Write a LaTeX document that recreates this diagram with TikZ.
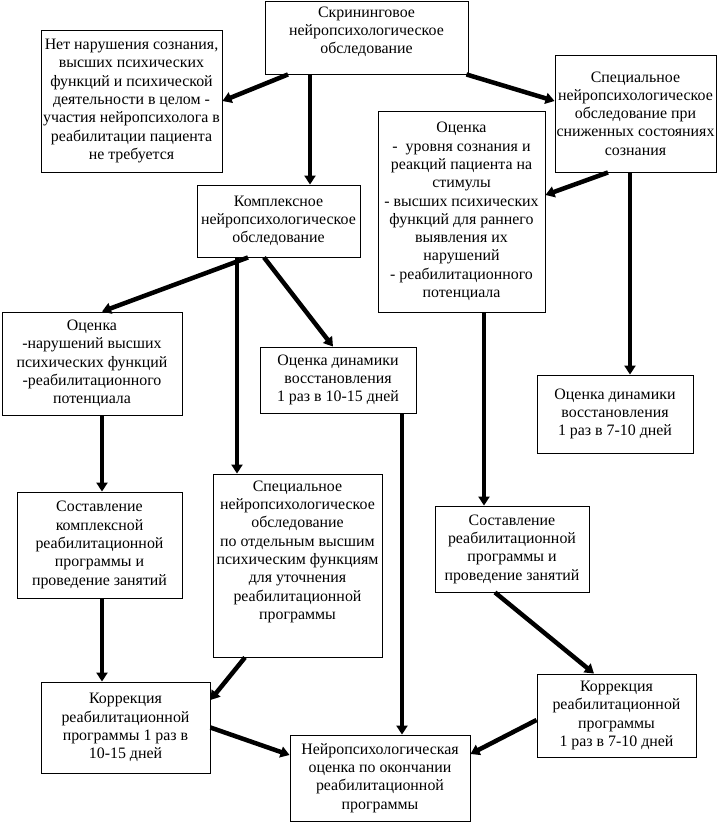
\documentclass[tikz,border=0pt]{standalone}
\usepackage{fontspec}
\setmainfont{Liberation Serif}
\usetikzlibrary{arrows.meta}
\newcommand\fsz{\fontsize{15.9}{18.3}\selectfont}
\tikzset{
  box/.style={draw, line width=0.9pt, inner sep=0pt, align=center, font=\fsz},
  lbl/.style={align=center, font=\fsz, inner sep=0pt},
  arr/.style={line width=4.5pt, -{Triangle[length=9pt,width=11pt]}},
}
\begin{document}
\begin{tikzpicture}[x=1pt,y=-1pt]
\useasboundingbox[fill=white] (0,0) rectangle (719,823);
% boxes
\node[box, minimum width=203, minimum height=73] (scr) at (366.5,37.5) {};
\node[lbl, anchor=north] (scrt) at ([yshift=-6pt]scr.north) {Скрининговое\\нейропсихологическое\\обследование};
\node[box, minimum width=181, minimum height=142] (nov) at (131.5,101) {Нет нарушения сознания,\\высших психических\\функций и психической\\деятельности в целом -\\участия нейропсихолога в\\реабилитации пациента\\не требуется};
\node[box, minimum width=161, minimum height=117] (spr) at (635.5,113.5) {Специальное\\нейропсихологическое\\обследование при\\сниженных состояниях\\сознания};
\node[box, minimum width=163, minimum height=72] (cmp) at (278.5,221) {Комплексное\\нейропсихологическое\\обследование};
\node[box, minimum width=167, minimum height=201] (ocr) at (461.5,211.5) {Оценка\\-\ \ уровня сознания и\\реакций пациента на\\стимулы\\- высших психических\\функций для раннего\\выявления их\\нарушений\\- реабилитационного\\потенциала};
\node[box, minimum width=180, minimum height=103] (ocl) at (92,363.5) {Оценка\\-нарушений высших\\психических функций\\-реабилитационного\\потенциала};
\node[box, minimum width=156, minimum height=66] (dnm) at (338,380) {Оценка динамики\\восстановления\\1 раз в 10-15 дней};
\node[box, minimum width=156, minimum height=78] (dnr) at (615,414) {Оценка динамики\\восстановления\\1 раз в 7-10 дней};
\node[box, minimum width=165, minimum height=106] (sol) at (99.5,545) {Составление\\комплексной\\реабилитационной\\программы и\\проведение занятий};
\node[box, minimum width=169, minimum height=183] (spm) at (297.5,565.5) {};
\node[lbl, anchor=north] (spmt) at ([yshift=-7pt]spm.north) {Специальное\\нейропсихологическое\\обследование\\по отдельным высшим\\психическим функциям\\для уточнения\\реабилитационной\\программы};
\node[box, minimum width=154, minimum height=86] (sor) at (512,549) {Составление\\реабилитационной\\программы и\\проведение занятий};
\node[box, minimum width=169, minimum height=91] (col) at (125.5,727.5) {Коррекция\\реабилитационной\\программы 1 раз в\\10-15 дней};
\node[box, minimum width=159, minimum height=83] (cor) at (616.5,715.5) {Коррекция\\реабилитационной\\программы\\1 раз в 7-10 дней};
\node[box, minimum width=180, minimum height=86] (fin) at (380,778) {Нейропсихологическая\\оценка по окончании\\реабилитационной\\программы};
% arrows
\draw[arr] ([xshift=-56.5pt]scr.south) -- ([xshift=31.5pt]cmp.north);
\draw[arr] ([xshift=-78.5pt]scr.south) -- (nov.east);
\draw[arr] ([xshift=-2pt]scr.south east) -- ([yshift=12.5pt]spr.west);
\draw[arr] ([xshift=-27.5pt]spr.south) -- ([yshift=16.5pt]ocr.east);
\draw[arr] ([xshift=-5.5pt]spr.south) -- ([xshift=15pt]dnr.north);
\draw[arr] ([xshift=-30.5pt]cmp.south) -- ([xshift=10pt]ocl.north);
\draw[arr] ([xshift=-41.5pt]cmp.south) -- ([xshift=-60.5pt]spm.north);
\draw[arr] ([xshift=-14.5pt]cmp.south) -- ([xshift=-5pt]dnm.north);
\draw[arr] ([xshift=22.5pt]ocr.south) -- ([xshift=-28pt]sor.north);
\draw[arr] ([xshift=10pt]ocl.south) -- ([xshift=2.5pt]sol.north);
\draw[arr] ([xshift=64pt]dnm.south) -- ([xshift=22pt]fin.north);
\draw[arr] ([xshift=2.5pt]sol.south) -- ([xshift=-23.5pt]col.north);
\draw[arr] ([xshift=-52.5pt]spm.south) -- ([yshift=27.5pt]col.east);
\draw[arr] (col.east) -- ([yshift=23pt]fin.west);
\draw[arr] ([xshift=-17pt]sor.south) -- ([xshift=-22.5pt]cor.north);
\draw[arr] ([yshift=-4.5pt]cor.west) -- ([yshift=24pt]fin.east);
\end{tikzpicture}
\end{document}
